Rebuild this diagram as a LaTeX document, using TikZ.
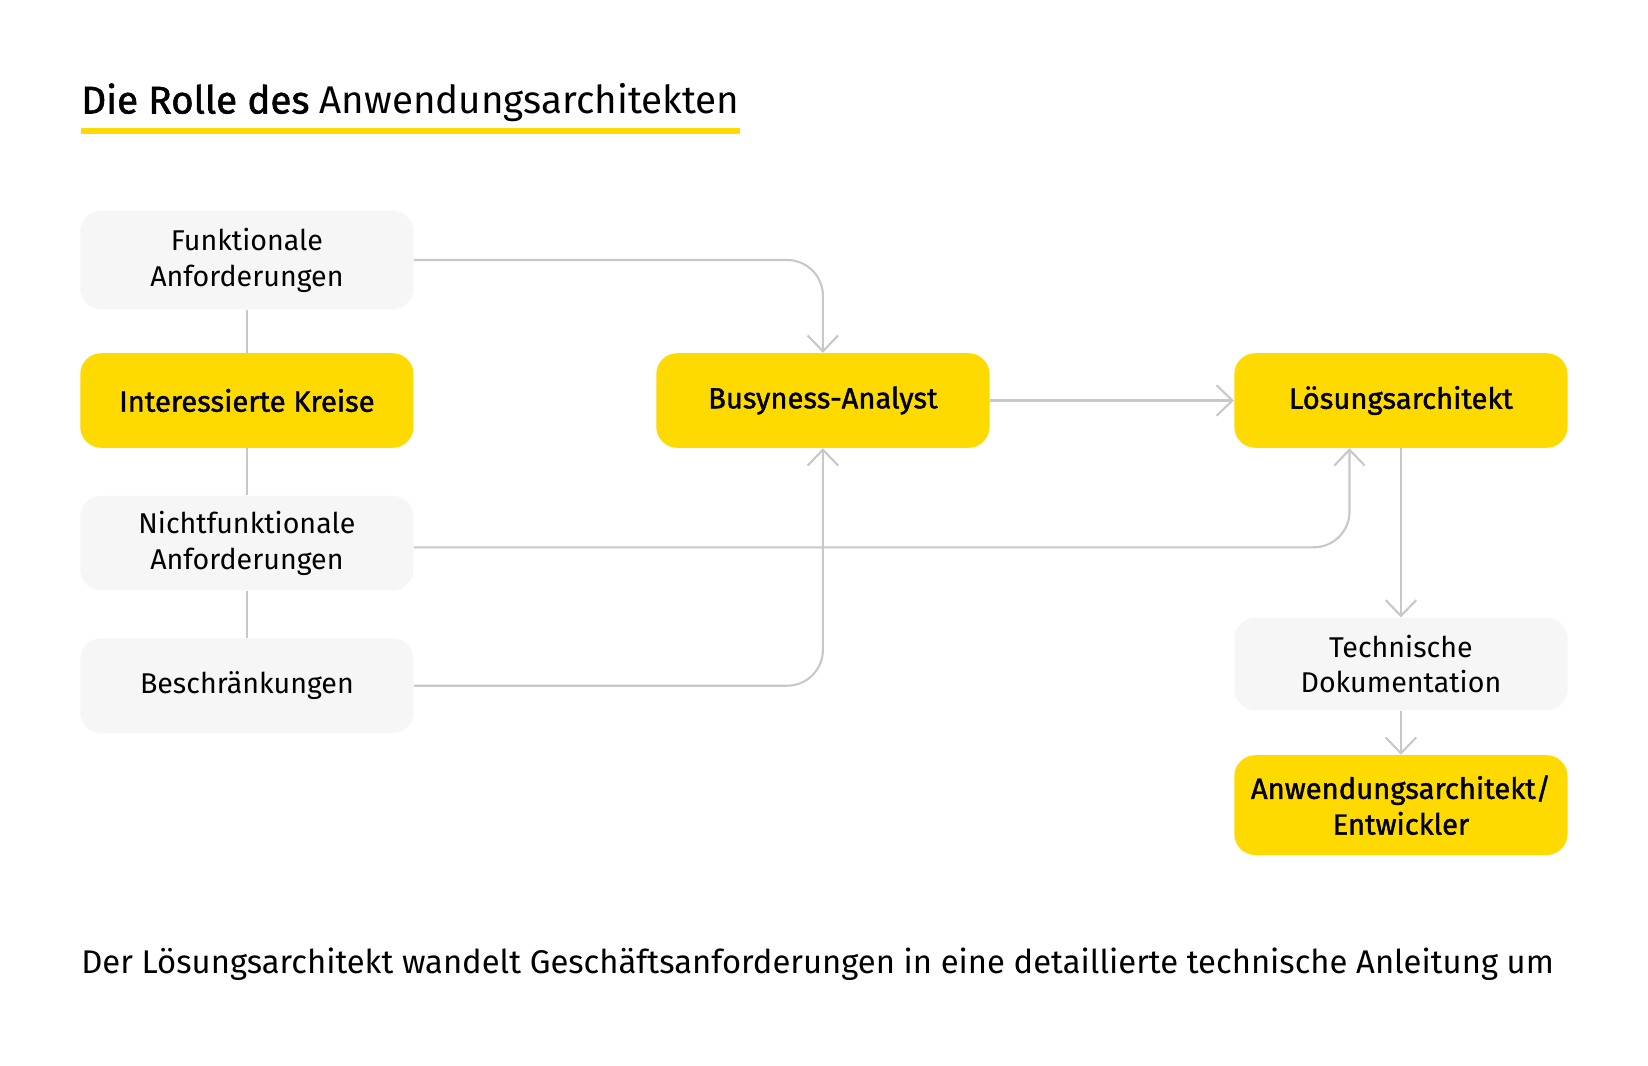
\documentclass[tikz,border=0pt]{standalone}
\usepackage{fontspec}
\setmainfont{Fira Sans}
\newfontfamily\medfont{Fira Sans}[FakeBold=1.4]
\usetikzlibrary{arrows.meta,positioning}
\definecolor{Gelb}{HTML}{FFDA00}
\definecolor{Grau}{HTML}{F6F6F6}
\definecolor{Linie}{HTML}{C8C8C8}

\begin{document}
\begin{tikzpicture}[x=0.5255pt, y=-0.5255pt,
  box/.style={rounded corners=10.5pt, align=center, inner sep=3pt, minimum width=166.6pt, minimum height=47.3pt, font=\fontsize{14.3}{17.9}\selectfont},
  rolle/.style={box, fill=Gelb, font=\fontsize{14.6}{17.9}\medfont},
  info/.style={box, fill=Grau},
  arr/.style={-{Straight Barb[length=7.9pt,width=15.2pt]}, line width=1.05pt, draw=Linie, rounded corners=17.9pt},
  link/.style={line width=1.05pt, draw=Linie} ]

\useasboundingbox[fill=white] (0,0) rectangle (1568,1014);

\node[inner sep=0, anchor=base west, font=\fontsize{19.3}{22}\selectfont] (titel) at (77,108) {{\medfont Die Rolle des} Anwendungsarchitekten};
\draw[line width=2.6pt, draw=Gelb] ([yshift=-8.7pt]titel.base west) -- ([yshift=-8.7pt]titel.base east);

\node[info, anchor=north west, minimum height=49.4pt] (fa) at (76,200) {Funktionale\\Anforderungen};
\node[rolle, below=21.5pt of fa] (ik) {Interessierte Kreise};
\node[info, below=23.6pt of ik] (nf) {Nichtfunktionale\\Anforderungen};
\node[info, below=23.6pt of nf] (be) {Beschränkungen};

\node[rolle, right=121pt of ik] (ba) {Busyness-Analyst};
\node[rolle, right=122pt of ba] (la) {Lösungsarchitekt};
\node[info, below=84.6pt of la, minimum height=46.2pt] (td) {Technische\\Dokumentation};
\node[rolle, below=22.1pt of td, minimum height=49.9pt] (ae) {Anwendungsarchitekt/\\Entwickler};

\coordinate (nf-out) at ([yshift=-2.1pt]nf.east);
\coordinate (la-in) at ([xshift=57.8pt]la.south west);

\draw[link] (fa) -- (ik);
\draw[link] (ik) -- (nf);
\draw[link] (nf) -- (be);

\draw[arr] (fa.east) -| (ba.north);
\draw[arr] (be.east) -| (ba.south);
\draw[arr] (nf-out) -| (la-in);
\draw[arr] (ba) -- (la);
\draw[arr] (la) -- (td);
\draw[arr] (td) -- (ae);

\node[inner sep=0, anchor=base west, font=\fontsize{16.4}{20}\selectfont] (fazit) at (77,926) {Der Lösungsarchitekt wandelt Geschäftsanforderungen in eine detaillierte technische Anleitung um};

\end{tikzpicture}
\end{document}
